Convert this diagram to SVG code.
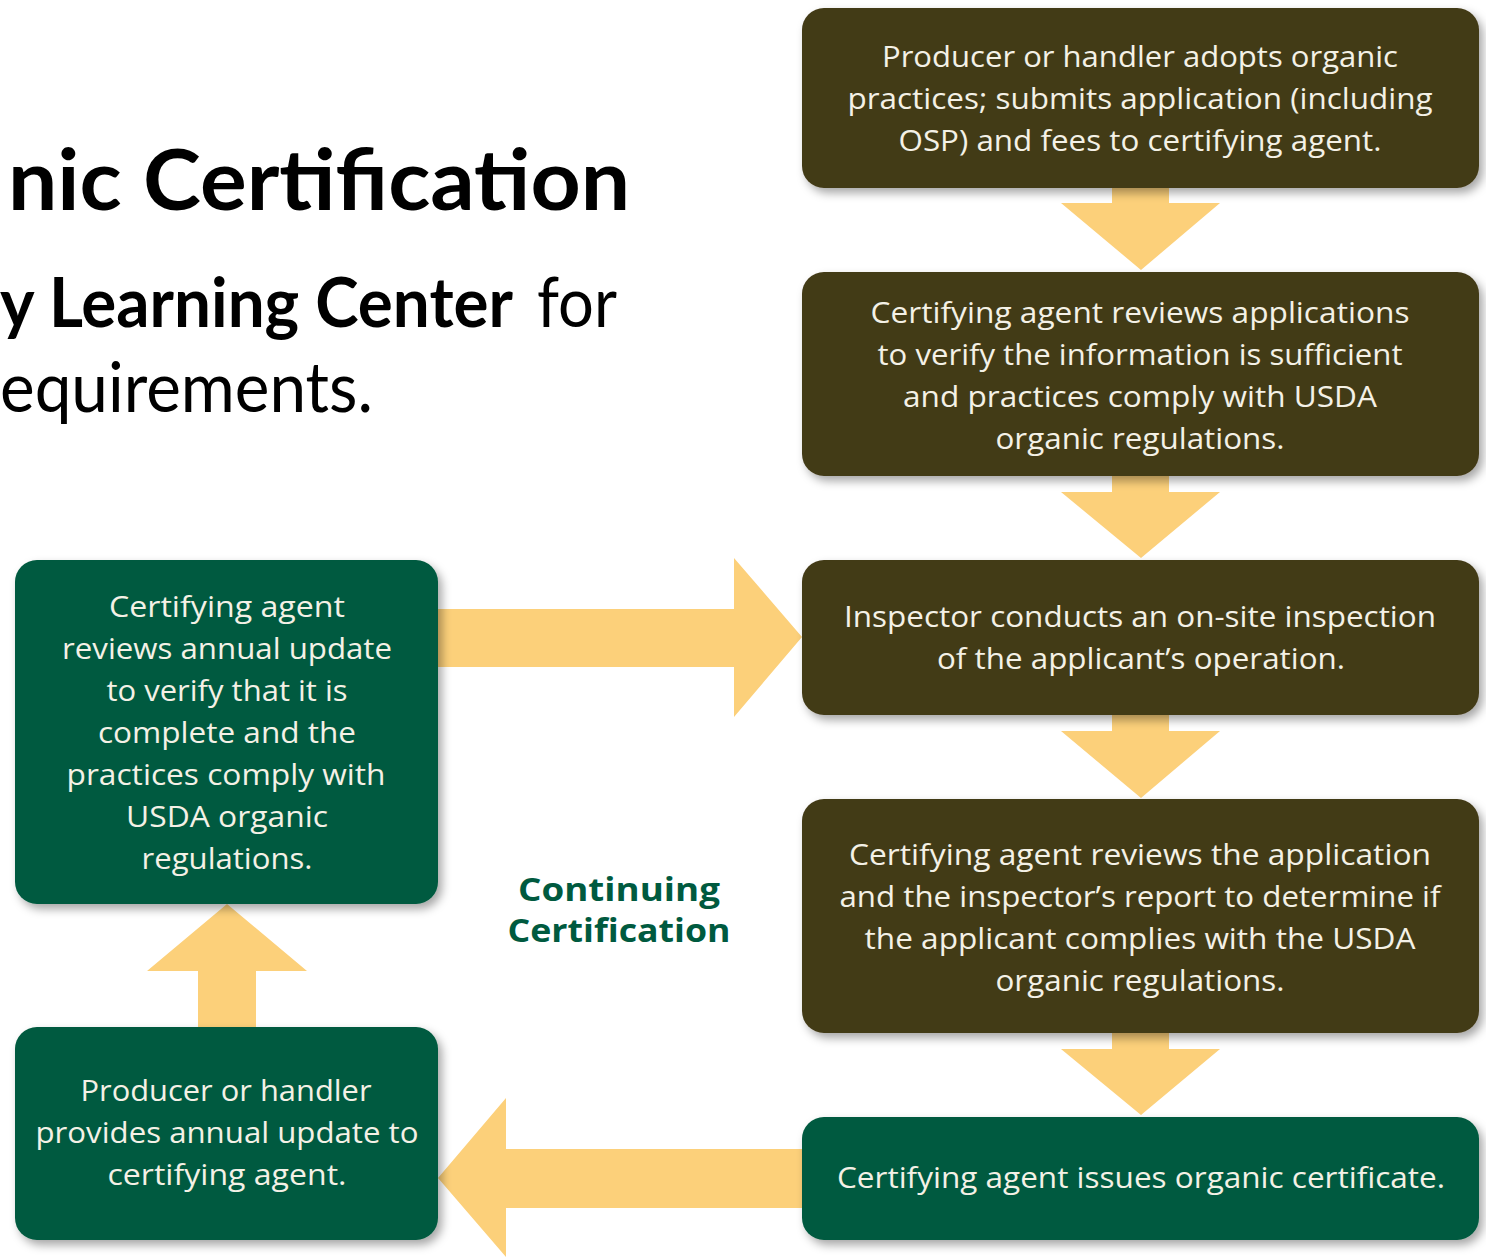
<svg xmlns="http://www.w3.org/2000/svg" width="1486" height="1257" viewBox="0 0 1486 1257">
<defs>
<filter id="sh" x="-10%" y="-10%" width="125%" height="130%">
<feDropShadow dx="4" dy="5" stdDeviation="5" flood-color="#000" flood-opacity="0.35"/>
</filter>
<style>
.dark{fill:#433a19;filter:url(#sh)}
.green{fill:#005a3f;filter:url(#sh)}
.arrow{fill:#fcd07a}
.bt{font-family:"Open Sans","Noto Sans",sans-serif;font-size:29px;fill:#f4f1e6;text-anchor:middle}
.title{font-family:Lato,"Open Sans",sans-serif;fill:#000}
.cc{font-family:"Open Sans","Noto Sans",sans-serif;font-weight:bold;font-size:32px;fill:#005a3f;text-anchor:middle}
</style>
</defs>
<rect width="1486" height="1257" fill="#fff"/>

<g id="title">
<text class="title" x="8" y="210" font-size="84" font-weight="bold" textLength="622" lengthAdjust="spacingAndGlyphs">nic Certification</text>
<text class="title" transform="translate(0,327) scale(1,1.12)" x="0" y="0" font-size="62" font-weight="bold" textLength="513" lengthAdjust="spacingAndGlyphs">y Learning Center</text>
<text class="title" x="537" y="327" font-size="70" textLength="80" lengthAdjust="spacingAndGlyphs">for</text>
<text class="title" x="0" y="412" font-size="70" textLength="373" lengthAdjust="spacingAndGlyphs">equirements.</text>
</g>

<g id="connectors">
<polygon class="arrow" points="1112,186 1169,186 1169,203 1220,203 1141,270 1061,203 1112,203"/>
<polygon class="arrow" points="1112,474 1169,474 1169,492 1220,492 1141,558 1061,492 1112,492"/>
<polygon class="arrow" points="1112,713 1169,713 1169,731 1220,731 1141,798 1061,731 1112,731"/>
<polygon class="arrow" points="1112,1031 1169,1031 1169,1049 1220,1049 1141,1115 1061,1049 1112,1049"/>
<polygon class="arrow" points="198,1029 256,1029 256,971 307,971 227,904 147,971 198,971"/>
<polygon class="arrow" points="436,609 734,609 734,558 802,637 734,717 734,667 436,667"/>
<polygon class="arrow" points="804,1149 506,1149 506,1098 438,1178 506,1257 506,1208 804,1208"/>
</g>

<g id="node-apply">
<rect class="dark" x="802" y="8" width="677" height="180" rx="22"/>
<text class="bt" x="1140" y="67" textLength="516" lengthAdjust="spacingAndGlyphs">Producer or handler adopts organic</text>
<text class="bt" x="1140" y="109" textLength="585" lengthAdjust="spacingAndGlyphs">practices; submits application (including</text>
<text class="bt" x="1140" y="151" textLength="483" lengthAdjust="spacingAndGlyphs">OSP) and fees to certifying agent.</text>
</g>

<g id="node-review">
<rect class="dark" x="802" y="272" width="677" height="204" rx="22"/>
<text class="bt" x="1140" y="323" textLength="539" lengthAdjust="spacingAndGlyphs">Certifying agent reviews applications</text>
<text class="bt" x="1140" y="365" textLength="525" lengthAdjust="spacingAndGlyphs">to verify the information is sufficient</text>
<text class="bt" x="1140" y="407" textLength="474" lengthAdjust="spacingAndGlyphs">and practices comply with USDA</text>
<text class="bt" x="1140" y="449" textLength="289" lengthAdjust="spacingAndGlyphs">organic regulations.</text>
</g>

<g id="node-inspect">
<rect class="dark" x="802" y="560" width="677" height="155" rx="22"/>
<text class="bt" x="1140" y="627" textLength="592" lengthAdjust="spacingAndGlyphs">Inspector conducts an on-site inspection</text>
<text class="bt" x="1141" y="669" textLength="408" lengthAdjust="spacingAndGlyphs">of the applicant’s operation.</text>
</g>

<g id="node-determine">
<rect class="dark" x="802" y="799" width="677" height="234" rx="22"/>
<text class="bt" x="1140" y="865" textLength="582" lengthAdjust="spacingAndGlyphs">Certifying agent reviews the application</text>
<text class="bt" x="1140" y="907" textLength="601" lengthAdjust="spacingAndGlyphs">and the inspector’s report to determine if</text>
<text class="bt" x="1140" y="949" textLength="551" lengthAdjust="spacingAndGlyphs">the applicant complies with the USDA</text>
<text class="bt" x="1140" y="991" textLength="289" lengthAdjust="spacingAndGlyphs">organic regulations.</text>
</g>

<g id="node-certificate">
<rect class="green" x="802" y="1117" width="677" height="123" rx="22"/>
<text class="bt" x="1141" y="1188" textLength="608" lengthAdjust="spacingAndGlyphs">Certifying agent issues organic certificate.</text>
</g>

<g id="node-annual-update">
<rect class="green" x="15" y="1027" width="423" height="213" rx="22"/>
<text class="bt" x="226" y="1101" textLength="291" lengthAdjust="spacingAndGlyphs">Producer or handler</text>
<text class="bt" x="227" y="1143" textLength="383" lengthAdjust="spacingAndGlyphs">provides annual update to</text>
<text class="bt" x="227" y="1185" textLength="239" lengthAdjust="spacingAndGlyphs">certifying agent.</text>
</g>

<g id="node-annual-review">
<rect class="green" x="15" y="560" width="423" height="344" rx="22"/>
<text class="bt" x="227" y="617" textLength="236" lengthAdjust="spacingAndGlyphs">Certifying agent</text>
<text class="bt" x="227" y="659" textLength="330" lengthAdjust="spacingAndGlyphs">reviews annual update</text>
<text class="bt" x="227" y="701" textLength="241" lengthAdjust="spacingAndGlyphs">to verify that it is</text>
<text class="bt" x="227" y="743" textLength="258" lengthAdjust="spacingAndGlyphs">complete and the</text>
<text class="bt" x="226" y="785" textLength="319" lengthAdjust="spacingAndGlyphs">practices comply with</text>
<text class="bt" x="227" y="827" textLength="202" lengthAdjust="spacingAndGlyphs">USDA organic</text>
<text class="bt" x="227" y="869" textLength="171" lengthAdjust="spacingAndGlyphs">regulations.</text>
</g>

<g id="label-continuing">
<text class="cc" x="619" y="901" textLength="202" lengthAdjust="spacingAndGlyphs">Continuing</text>
<text class="cc" x="619" y="942" textLength="223" lengthAdjust="spacingAndGlyphs">Certification</text>
</g>
</svg>
